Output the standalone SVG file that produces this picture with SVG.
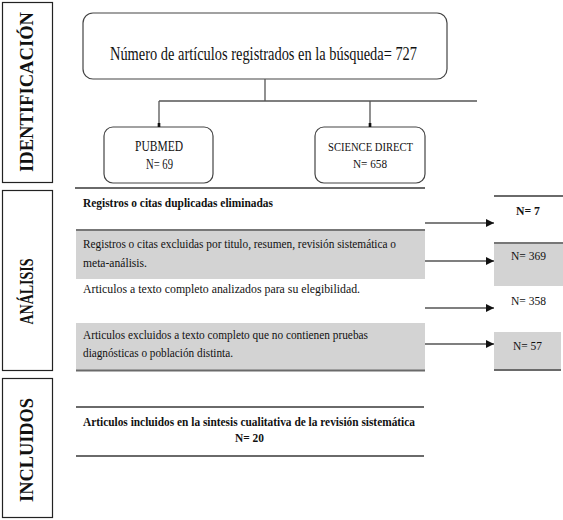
<svg xmlns="http://www.w3.org/2000/svg" width="563" height="520" viewBox="0 0 563 520">
<style>
text{font-family:"Liberation Serif","Times New Roman",serif;fill:#111}
.lbl{font-weight:bold;font-size:19px}
.b{font-weight:bold}
.side{fill:#fff;stroke:#222;stroke-width:1.2}
.rbox{fill:#fff;stroke:#444;stroke-width:1.2}
.conn{fill:none;stroke:#555;stroke-width:1.3}
.sep{stroke:#6a6a6a;stroke-width:2;fill:none}
.band{fill:#d3d3d3}
.bandtop{stroke:#777;stroke-width:2.2}
</style>
<defs>
<marker id="ah" viewBox="0 0 8 8" refX="8" refY="4" markerWidth="8" markerHeight="8" markerUnits="userSpaceOnUse" orient="auto"><path d="M0,0 L8,4 L0,8 Z" fill="#111"/></marker>
<marker id="sq" viewBox="0 0 6 4" refX="6" refY="2" markerWidth="4" markerHeight="5" markerUnits="userSpaceOnUse" orient="auto"><path d="M0,0 L6,0 L6,4 L0,4 Z" fill="#111"/></marker>
</defs>

<g id="label-identificacion">
<rect class="side" x="2.5" y="2.5" width="50" height="180"/>
<text class="lbl" transform="translate(33,92) rotate(-90)" text-anchor="middle" textLength="160" lengthAdjust="spacingAndGlyphs">IDENTIFICACIÓN</text>
</g>
<g id="label-analisis">
<rect class="side" x="2.5" y="190.5" width="50" height="180"/>
<text class="lbl" transform="translate(33,291.5) rotate(-90)" text-anchor="middle" textLength="66" lengthAdjust="spacingAndGlyphs">ANÁLISIS</text>
</g>
<g id="label-incluidos">
<rect class="side" x="2.5" y="378.5" width="50" height="139"/>
<text class="lbl" transform="translate(33,450) rotate(-90)" text-anchor="middle" textLength="104" lengthAdjust="spacingAndGlyphs">INCLUIDOS</text>
</g>

<g id="node-total">
<rect class="rbox" x="83" y="13" width="364" height="66" rx="10"/>
<text x="110" y="60" font-size="18.5" textLength="307" lengthAdjust="spacingAndGlyphs">Número de artículos registrados en la búsqueda= 727</text>
</g>
<g id="node-pubmed">
<rect class="rbox" x="104" y="127" width="109" height="56" rx="9"/>
<text x="159" y="151" font-size="14" text-anchor="middle" textLength="48" lengthAdjust="spacingAndGlyphs">PUBMED</text>
<text x="159.5" y="169" font-size="14" text-anchor="middle" textLength="27" lengthAdjust="spacingAndGlyphs">N= 69</text>
</g>
<g id="node-science">
<rect class="rbox" x="315" y="127" width="110" height="56" rx="9"/>
<text x="370.5" y="151" font-size="13" text-anchor="middle" textLength="85" lengthAdjust="spacingAndGlyphs">SCIENCE DIRECT</text>
<text x="370" y="168" font-size="13" text-anchor="middle" textLength="34" lengthAdjust="spacingAndGlyphs">N= 658</text>
</g>

<g id="separators">
<line class="sep" x1="75" y1="188" x2="425" y2="188"/>
<line class="sep" x1="494" y1="196" x2="563" y2="196"/>
</g>

<g id="node-duplicados">
<text class="b" x="83" y="207" font-size="13" textLength="190" lengthAdjust="spacingAndGlyphs">Registros o citas duplicadas eliminadas</text>
</g>
<g id="node-excluidos-titulo">
<rect class="band" x="76" y="229" width="349" height="50"/>
<line class="bandtop" x1="76" y1="230" x2="425" y2="230"/>
<text x="83" y="248" font-size="13" textLength="313" lengthAdjust="spacingAndGlyphs">Registros o citas excluidas por titulo, resumen, revisión sistemática o</text>
<text x="83" y="267" font-size="13" textLength="64" lengthAdjust="spacingAndGlyphs">meta-análisis.</text>
</g>
<g id="node-elegibilidad">
<text x="83" y="293" font-size="13" textLength="277" lengthAdjust="spacingAndGlyphs">Articulos a texto completo analizados para su elegibilidad.</text>
</g>
<g id="node-excluidos-completo">
<rect class="band" x="76" y="323" width="349" height="47"/>
<line class="sep" x1="76" y1="370.5" x2="425" y2="370.5"/>
<text x="83" y="339" font-size="13" textLength="285" lengthAdjust="spacingAndGlyphs">Articulos excluidos a texto completo que no contienen pruebas</text>
<text x="83" y="357" font-size="13" textLength="150" lengthAdjust="spacingAndGlyphs">diagnósticas o población distinta.</text>
</g>

<g id="node-n7">
<text class="b" x="528" y="215" font-size="13" text-anchor="middle" textLength="24" lengthAdjust="spacingAndGlyphs">N= 7</text>
</g>
<g id="node-n369">
<rect class="band" x="494" y="242" width="69" height="44"/>
<line class="bandtop" x1="494" y1="243" x2="563" y2="243"/>
<text x="528.5" y="260" font-size="13" text-anchor="middle" textLength="35" lengthAdjust="spacingAndGlyphs">N= 369</text>
</g>
<g id="node-n358">
<text x="528.5" y="305" font-size="13" text-anchor="middle" textLength="35" lengthAdjust="spacingAndGlyphs">N= 358</text>
</g>
<g id="node-n57">
<rect class="band" x="494" y="332" width="67" height="38"/>
<line class="sep" x1="494" y1="370" x2="561" y2="370"/>
<text x="527.5" y="350" font-size="13" text-anchor="middle" textLength="29" lengthAdjust="spacingAndGlyphs">N= 57</text>
</g>

<g id="node-incluidos">
<line class="sep" x1="76" y1="407" x2="424" y2="407"/>
<text class="b" x="249" y="426" font-size="13" text-anchor="middle" textLength="332" lengthAdjust="spacingAndGlyphs">Articulos incluidos en la sintesis cualitativa de la revisión sistemática</text>
<text class="b" x="249.5" y="442" font-size="13" text-anchor="middle" textLength="29" lengthAdjust="spacingAndGlyphs">N= 20</text>
<line class="sep" x1="76" y1="456" x2="424" y2="456"/>
</g>

<g id="connectors">
<path class="conn" d="M265,79 V101"/>
<path class="conn" d="M159,101 H477"/>
<path class="conn" d="M159,101 V127" marker-end="url(#sq)"/>
<path class="conn" d="M370,101 V127" marker-end="url(#sq)"/>
<path class="conn" d="M425,223 H494" marker-end="url(#ah)"/>
<path class="conn" d="M425,261 H494" marker-end="url(#ah)"/>
<path class="conn" d="M425,308 H494" marker-end="url(#ah)"/>
<path class="conn" d="M425,344 H494" marker-end="url(#ah)"/>
</g>
</svg>
